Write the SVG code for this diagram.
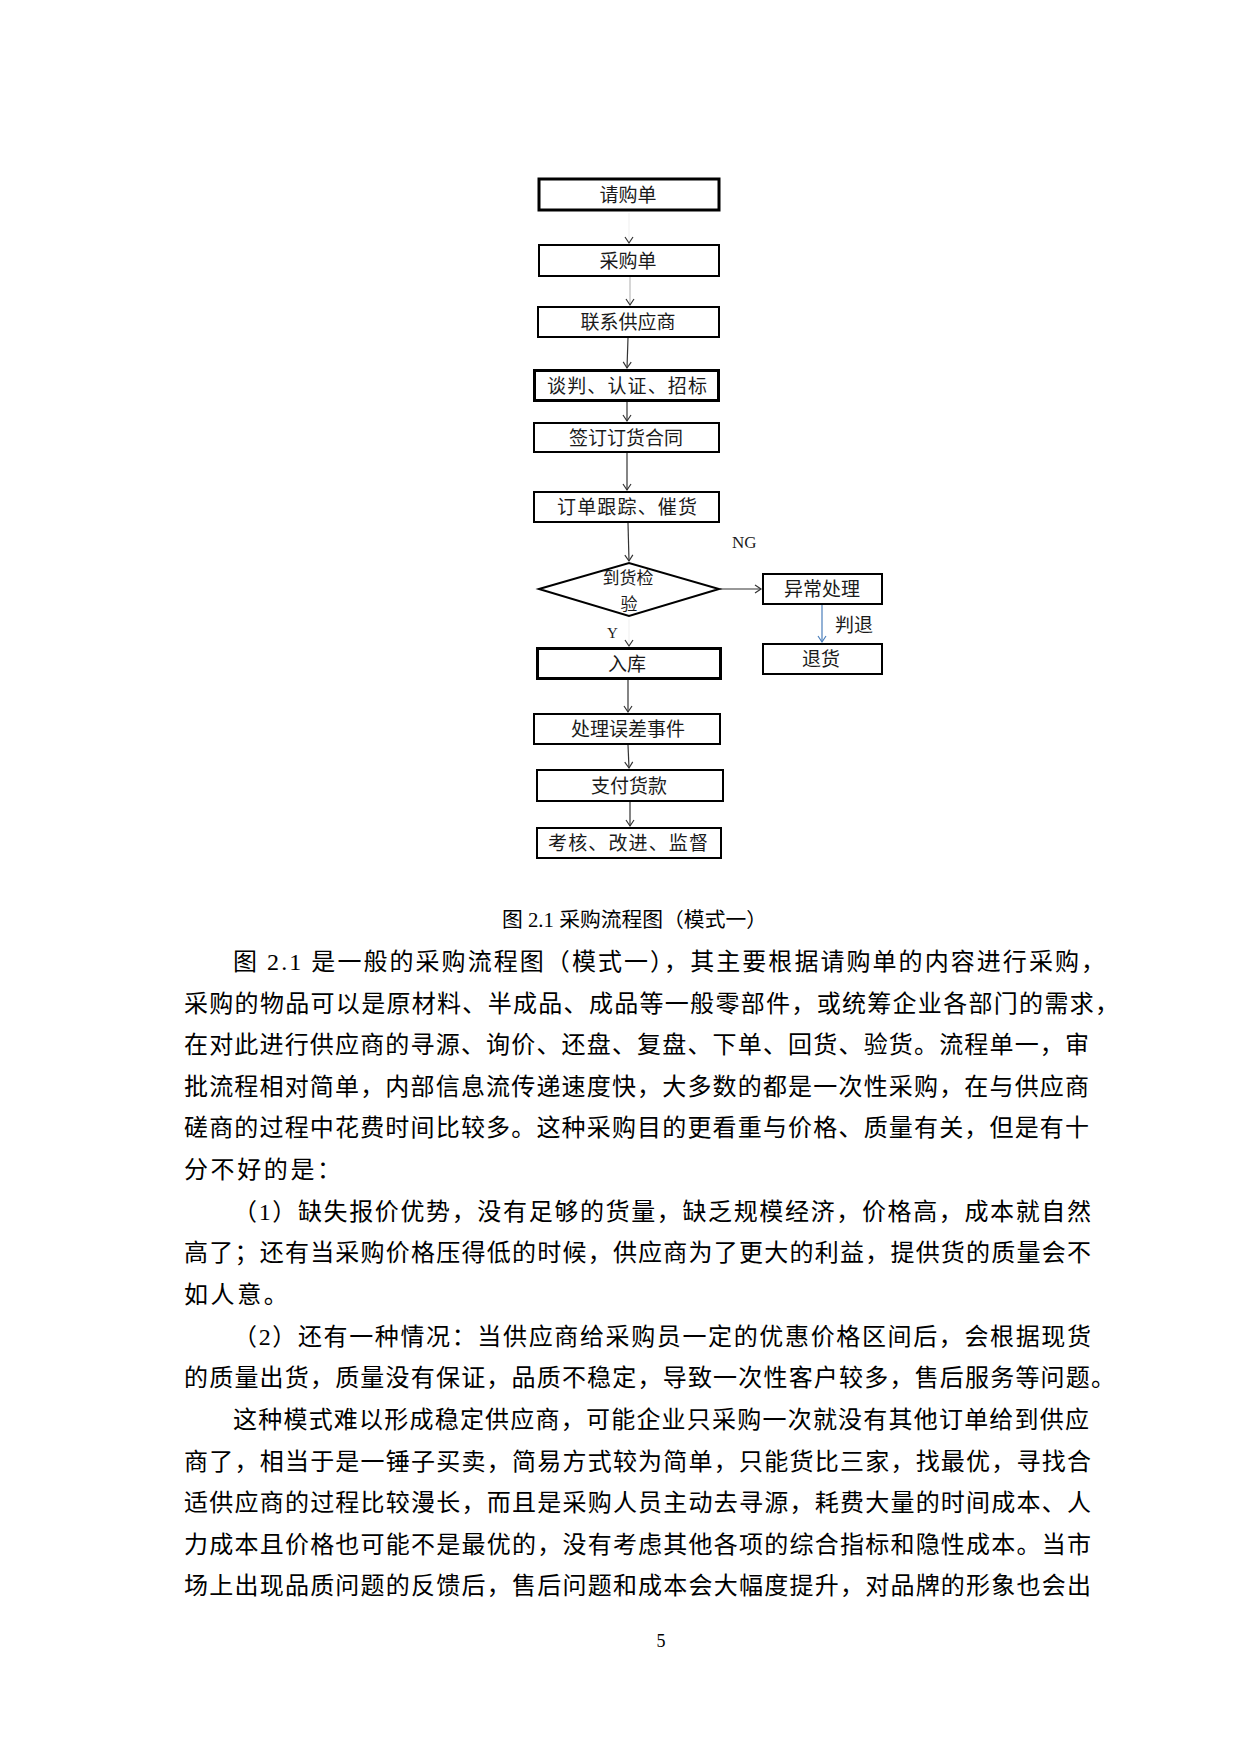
<svg xmlns="http://www.w3.org/2000/svg" width="1240" height="1754" viewBox="0 0 1240 1754">
<style>
.box{fill:#fff;stroke:#000;stroke-width:2}
.thick{stroke-width:3}
.bt{font-family:"Noto Sans CJK SC","Liberation Sans",sans-serif;font-size:19px;fill:#1a1a1a;text-anchor:middle}
.dt{font-size:17px}
.lbl{font-family:"Liberation Serif","Noto Sans CJK SC",serif;fill:#1a1a1a}
.body{font-family:"Liberation Serif","Noto Sans CJK SC",serif;font-size:24px;fill:#000}
.cn{fill:none;stroke:#333;stroke-width:1.2}
</style>
<defs>
<marker id="ah" markerUnits="userSpaceOnUse" markerWidth="10" markerHeight="10" viewBox="0 0 10 10" refX="7" refY="5" orient="auto">
<path d="M1,1 L7,5 L1,9" fill="none" stroke="#333" stroke-width="1.2"/>
</marker>
<marker id="ahb" markerUnits="userSpaceOnUse" markerWidth="10" markerHeight="10" viewBox="0 0 10 10" refX="7" refY="5" orient="auto">
<path d="M1,1 L7,5 L1,9" fill="none" stroke="#4a7ebb" stroke-width="1.2"/>
</marker>
</defs>
<rect width="1240" height="1754" fill="#fff"/>

<g id="connectors">
<line class="cn" x1="629" y1="213" x2="629" y2="243" style="stroke:#f2f2f2" marker-end="url(#ah)"/>
<line class="cn" x1="630" y1="277" x2="630" y2="305" style="stroke:#bbb" marker-end="url(#ah)"/>
<line class="cn" x1="628" y1="338" x2="627" y2="368" marker-end="url(#ah)"/>
<line class="cn" x1="627" y1="402" x2="627" y2="421" marker-end="url(#ah)"/>
<line class="cn" x1="627" y1="453" x2="627" y2="490" marker-end="url(#ah)"/>
<line class="cn" x1="628" y1="523" x2="629" y2="561" marker-end="url(#ah)"/>
<line class="cn" x1="720" y1="589" x2="761" y2="589" marker-end="url(#ah)"/>
<line class="cn" x1="822" y1="605" x2="822" y2="642" style="stroke:#4a7ebb" marker-end="url(#ahb)"/>
<line class="cn" x1="629" y1="619" x2="629" y2="646" style="stroke:#f2f2f2" marker-end="url(#ah)"/>
<line class="cn" x1="628" y1="680" x2="628" y2="712" marker-end="url(#ah)"/>
<line class="cn" x1="628" y1="745" x2="629" y2="768" marker-end="url(#ah)"/>
<line class="cn" x1="630" y1="802" x2="630" y2="826" marker-end="url(#ah)"/>
</g>

<g id="n1"><rect class="box thick" x="539" y="179" width="180" height="31"/><text class="bt" x="628" y="202">请购单</text></g>
<g id="n2"><rect class="box" x="539" y="245" width="180" height="31"/><text class="bt" x="628" y="268">采购单</text></g>
<g id="n3"><rect class="box" x="538" y="307" width="181" height="30"/><text class="bt" x="628" y="329">联系供应商</text></g>
<g id="n4"><rect class="box thick" x="534.5" y="370.5" width="184" height="30"/><text class="bt" x="627" y="393" textLength="160" lengthAdjust="spacing">谈判、认证、招标</text></g>
<g id="n5"><rect class="box" x="534" y="423" width="185" height="29"/><text class="bt" x="626" y="445">签订订货合同</text></g>
<g id="n6"><rect class="box" x="534" y="492" width="185" height="30"/><text class="bt" x="627" y="514" textLength="140" lengthAdjust="spacing">订单跟踪、催货</text></g>
<g id="n7"><polygon class="box" points="539,589 629,563 719,589 629,616"/><text class="bt dt" x="628" y="584">到货检</text><text class="bt dt" x="629" y="610">验</text></g>
<g id="n8"><rect class="box" x="763" y="574" width="119" height="30"/><text class="bt" x="822" y="596">异常处理</text></g>
<g id="n9"><rect class="box" x="763" y="644" width="119" height="30"/><text class="bt" x="821" y="666">退货</text></g>
<g id="n10"><rect class="box thick" x="537.5" y="648.5" width="183" height="30"/><text class="bt" x="627" y="671">入库</text></g>
<g id="n11"><rect class="box" x="534" y="714" width="186" height="30"/><text class="bt" x="628" y="736">处理误差事件</text></g>
<g id="n12"><rect class="box" x="537" y="770" width="186" height="31"/><text class="bt" x="629" y="793">支付货款</text></g>
<g id="n13"><rect class="box" x="537" y="828" width="184" height="30"/><text class="bt" x="628" y="850" textLength="160" lengthAdjust="spacing">考核、改进、监督</text></g>

<g id="labels">
<text class="lbl" x="732" y="548" font-size="17">NG</text>
<text class="lbl" x="607" y="638" font-size="15">Y</text>
<text class="lbl" x="835" y="632" font-size="19" style="font-family:'Noto Sans CJK SC',sans-serif">判退</text>
</g>

<g id="text">
<text class="body" x="502" y="927" style="font-size:20px" textLength="265" lengthAdjust="spacingAndGlyphs">图 2.1 采购流程图（模式一）</text>
<text class="body" x="233" y="970" textLength="872" lengthAdjust="spacing">图 2.1 是一般的采购流程图（模式一），其主要根据请购单的内容进行采购，</text>
<text class="body" x="184" y="1012" textLength="935" lengthAdjust="spacing">采购的物品可以是原材料、半成品、成品等一般零部件，或统筹企业各部门的需求，</text>
<text class="body" x="184" y="1053" textLength="905" lengthAdjust="spacing">在对此进行供应商的寻源、询价、还盘、复盘、下单、回货、验货。流程单一，审</text>
<text class="body" x="184" y="1095" textLength="905" lengthAdjust="spacing">批流程相对简单，内部信息流传递速度快，大多数的都是一次性采购，在与供应商</text>
<text class="body" x="184" y="1136" textLength="905" lengthAdjust="spacing">磋商的过程中花费时间比较多。这种采购目的更看重与价格、质量有关，但是有十</text>
<text class="body" x="184" y="1178" letter-spacing="2.6">分不好的是：</text>
<text class="body" x="233" y="1220" textLength="858" lengthAdjust="spacing">（1）缺失报价优势，没有足够的货量，缺乏规模经济，价格高，成本就自然</text>
<text class="body" x="184" y="1261" textLength="907" lengthAdjust="spacing">高了；还有当采购价格压得低的时候，供应商为了更大的利益，提供货的质量会不</text>
<text class="body" x="184" y="1303" letter-spacing="2.6">如人意。</text>
<text class="body" x="233" y="1345" textLength="858" lengthAdjust="spacing">（2）还有一种情况：当供应商给采购员一定的优惠价格区间后，会根据现货</text>
<text class="body" x="184" y="1386" textLength="931" lengthAdjust="spacing">的质量出货，质量没有保证，品质不稳定，导致一次性客户较多，售后服务等问题。</text>
<text class="body" x="233" y="1428" textLength="856" lengthAdjust="spacing">这种模式难以形成稳定供应商，可能企业只采购一次就没有其他订单给到供应</text>
<text class="body" x="184" y="1470" textLength="907" lengthAdjust="spacing">商了，相当于是一锤子买卖，简易方式较为简单，只能货比三家，找最优，寻找合</text>
<text class="body" x="184" y="1511" textLength="907" lengthAdjust="spacing">适供应商的过程比较漫长，而且是采购人员主动去寻源，耗费大量的时间成本、人</text>
<text class="body" x="184" y="1553" textLength="907" lengthAdjust="spacing">力成本且价格也可能不是最优的，没有考虑其他各项的综合指标和隐性成本。当市</text>
<text class="body" x="184" y="1594" textLength="907" lengthAdjust="spacing">场上出现品质问题的反馈后，售后问题和成本会大幅度提升，对品牌的形象也会出</text>
<text class="body" x="661" y="1647" style="font-size:18px" text-anchor="middle">5</text>
</g>
</svg>
